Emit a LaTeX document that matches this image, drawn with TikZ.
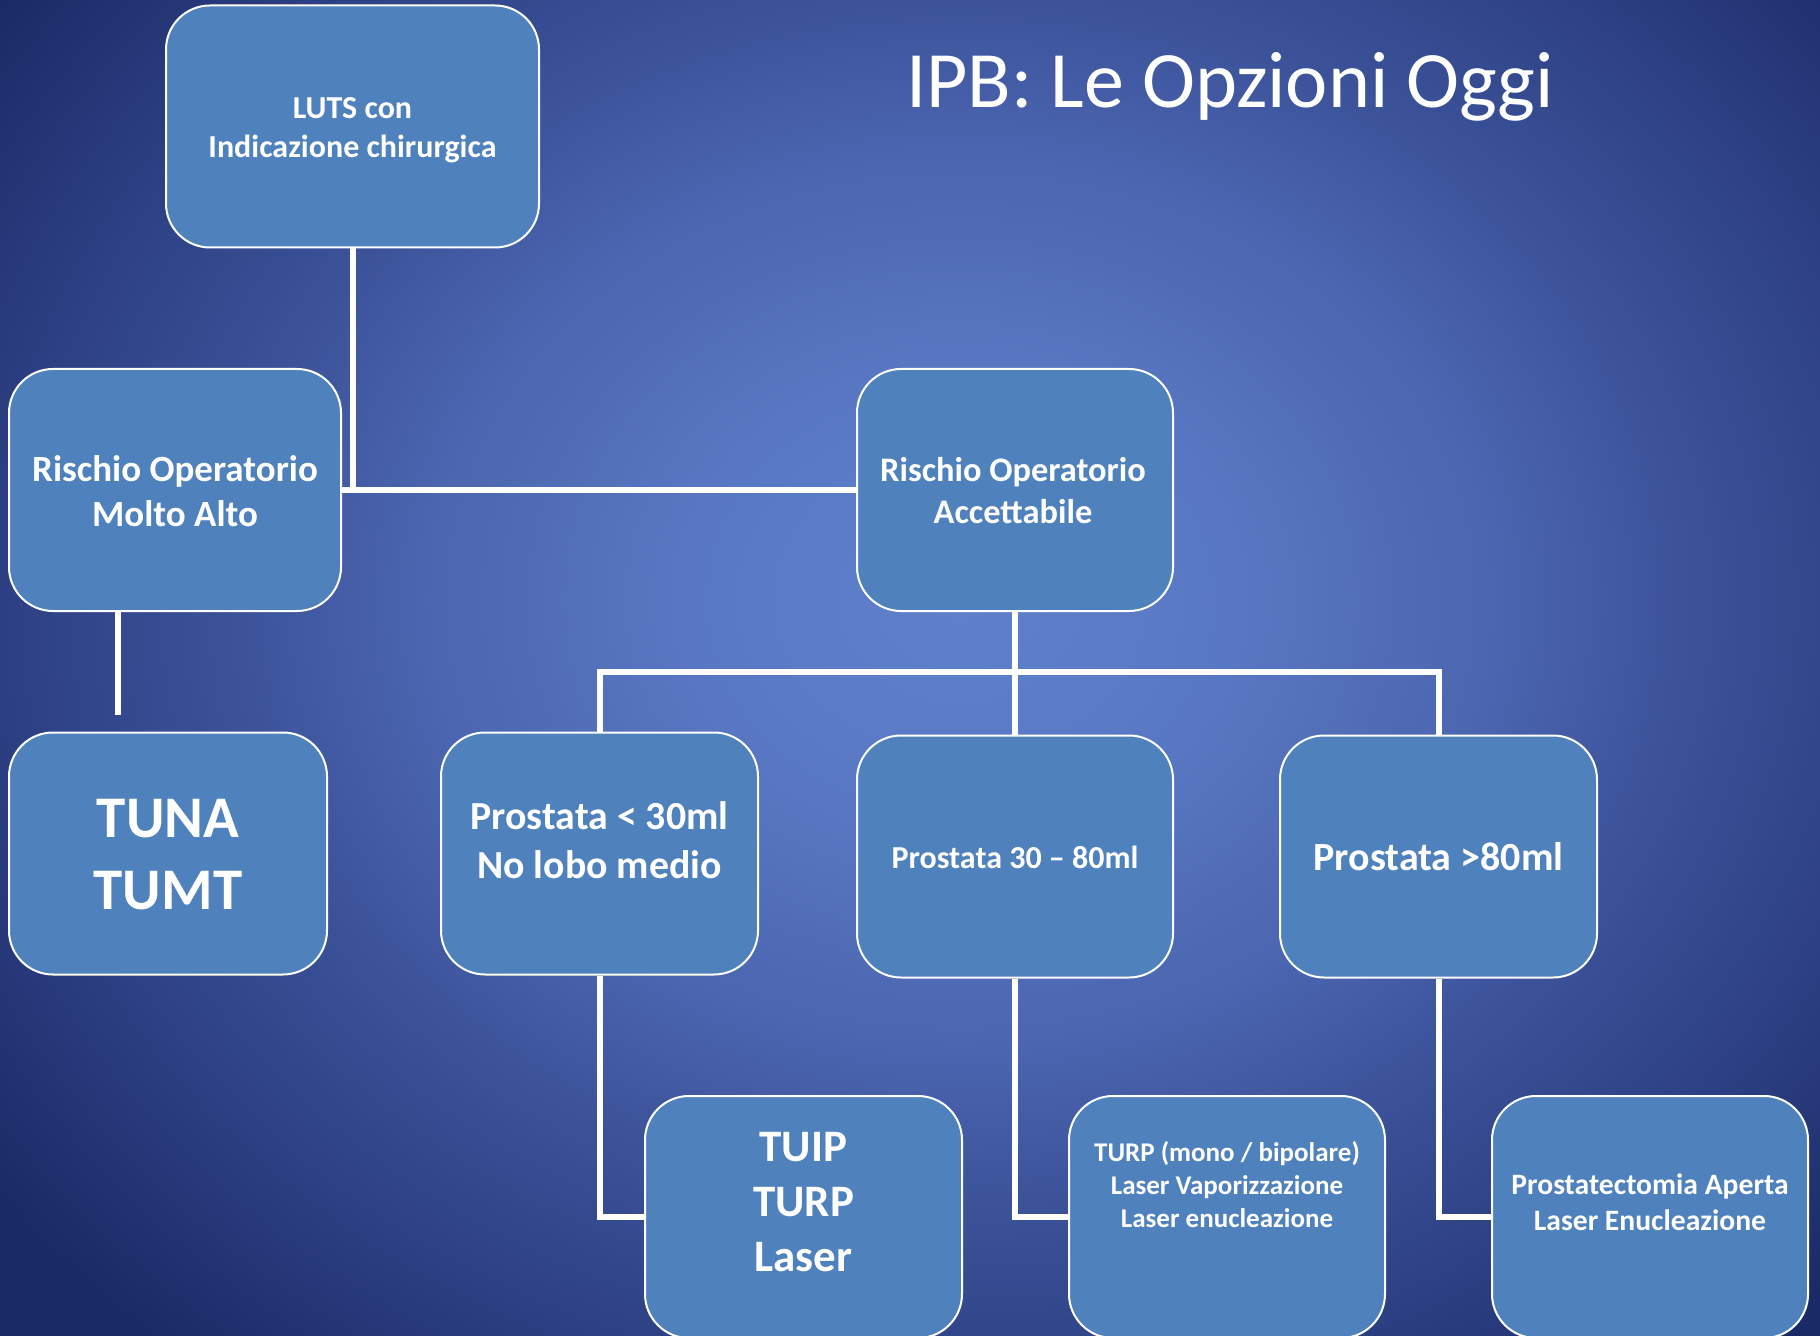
\documentclass[tikz,border=0pt]{standalone}
\usepackage{fontspec}
\setmainfont{Carlito}
\definecolor{boxblue}{HTML}{4F81BD}
\definecolor{bgA}{HTML}{5E80CB}
\definecolor{bgB}{HTML}{5A79C4}
\definecolor{bgC}{HTML}{4C66B1}
\definecolor{bgD}{HTML}{3C539A}
\definecolor{bgE}{HTML}{2C3F82}
\definecolor{bgF}{HTML}{1A2A66}
\pgfdeclareradialshading{bgshade}{\pgfpoint{0bp}{0bp}}{color(0bp)=(bgA); color(5bp)=(bgB); color(11bp)=(bgC); color(15bp)=(bgD); color(20bp)=(bgE); color(25bp)=(bgF); color(50bp)=(bgF)}
\tikzset{
  box/.style={draw=white, line width=1pt, fill=boxblue, rounded corners=22pt,
    minimum width=#1, minimum height=121pt, inner sep=0pt},
  conn/.style={white, line width=3pt},
  txt/.style={text=white, align=center, inner sep=0pt},
}
\newcommand{\fs}[1]{\fontsize{#1pt}{\fpeval{1.22*#1}pt}\selectfont\bfseries}
\begin{document}
\begin{tikzpicture}[x=0.5pt, y=-0.5pt]
\useasboundingbox (0,0) rectangle (1820,1336);
\clip (0,0) rectangle (1820,1336);
\fill[bgF] (0,0) rectangle (1820,1336);
\shade[shading=bgshade] (-240,-400) rectangle (2160,1600);
% boxes
\node[box=186.5pt] (luts) at (352.5,126.5) {};
\node[box=166pt] (alto) at (175,490) {};
\node[box=158pt] (acc) at (1015,490) {};
\node[box=159pt] (tuna) at (168,853.5) {};
\node[box=158.5pt] (p30) at (599.5,853.5) {};
\node[box=158pt] (p3080) at (1015,856.5) {};
\node[box=158.5pt] (p80) at (1438.5,856.5) {};
\node[box=158.5pt] (tuip) at (803.5,1217) {};
\node[box=158pt] (turp) at (1227,1217) {};
\node[box=158pt] (pa) at (1650,1217) {};
% texts
\node[txt, font=\fontsize{40pt}{48pt}\selectfont] (title) at (1230,87) {IPB: Le Opzioni Oggi};
\node[txt, font=\fs{16}] (tluts) at (352.5,130) {LUTS con\\Indicazione chirurgica};
\node[txt, font=\fs{18.5}] (talto) at (175,491) {Rischio Operatorio\\Molto Alto};
\node[txt, font=\fs{17.2}] (tacc) at (1013,491) {Rischio Operatorio\\Accettabile};
\node[txt, font=\fs{29.5}] (ttuna) at (168,855) {TUNA\\TUMT};
\node[txt, font=\fs{19.9}] (tp30) at (599.5,840) {Prostata < 30ml\\No lobo medio};
\node[txt, font=\fs{16}] (tp3080) at (1015,857) {Prostata 30 – 80ml};
\node[txt, font=\fs{20}] (tp80) at (1438.5,857) {Prostata >80ml};
\node[txt, font=\fs{22.5}] (ttuip) at (803.5,1202) {TUIP\\TURP\\Laser};
\node[txt, font=\fs{13.5}] (tturp) at (1227,1185) {TURP (mono / bipolare)\\Laser Vaporizzazione\\Laser enucleazione};
\node[txt, font=\fs{14.8}] (tpa) at (1650,1202) {Prostatectomia Aperta\\Laser Enucleazione};
% connectors
\draw[conn] (luts.south) -- (luts.south |- alto.east);
\draw[conn] (alto.east) -- (acc.west);
\coordinate (altoEnd) at (118,715);
\draw[conn] (alto.south -| altoEnd) -- (altoEnd);
\coordinate (bus) at (1015,672);
\draw[conn] (acc.south) -- (bus);
\draw[conn] (p30.north) -- (p30.north |- bus) -- (p80.north |- bus) -- (p80.north);
\draw[conn] (bus) -- (p3080.north);
\draw[conn] (p30.south) |- (tuip.west);
\draw[conn] (p3080.south) |- (turp.west);
\draw[conn] (p80.south) |- (pa.west);
\end{tikzpicture}
\end{document}
